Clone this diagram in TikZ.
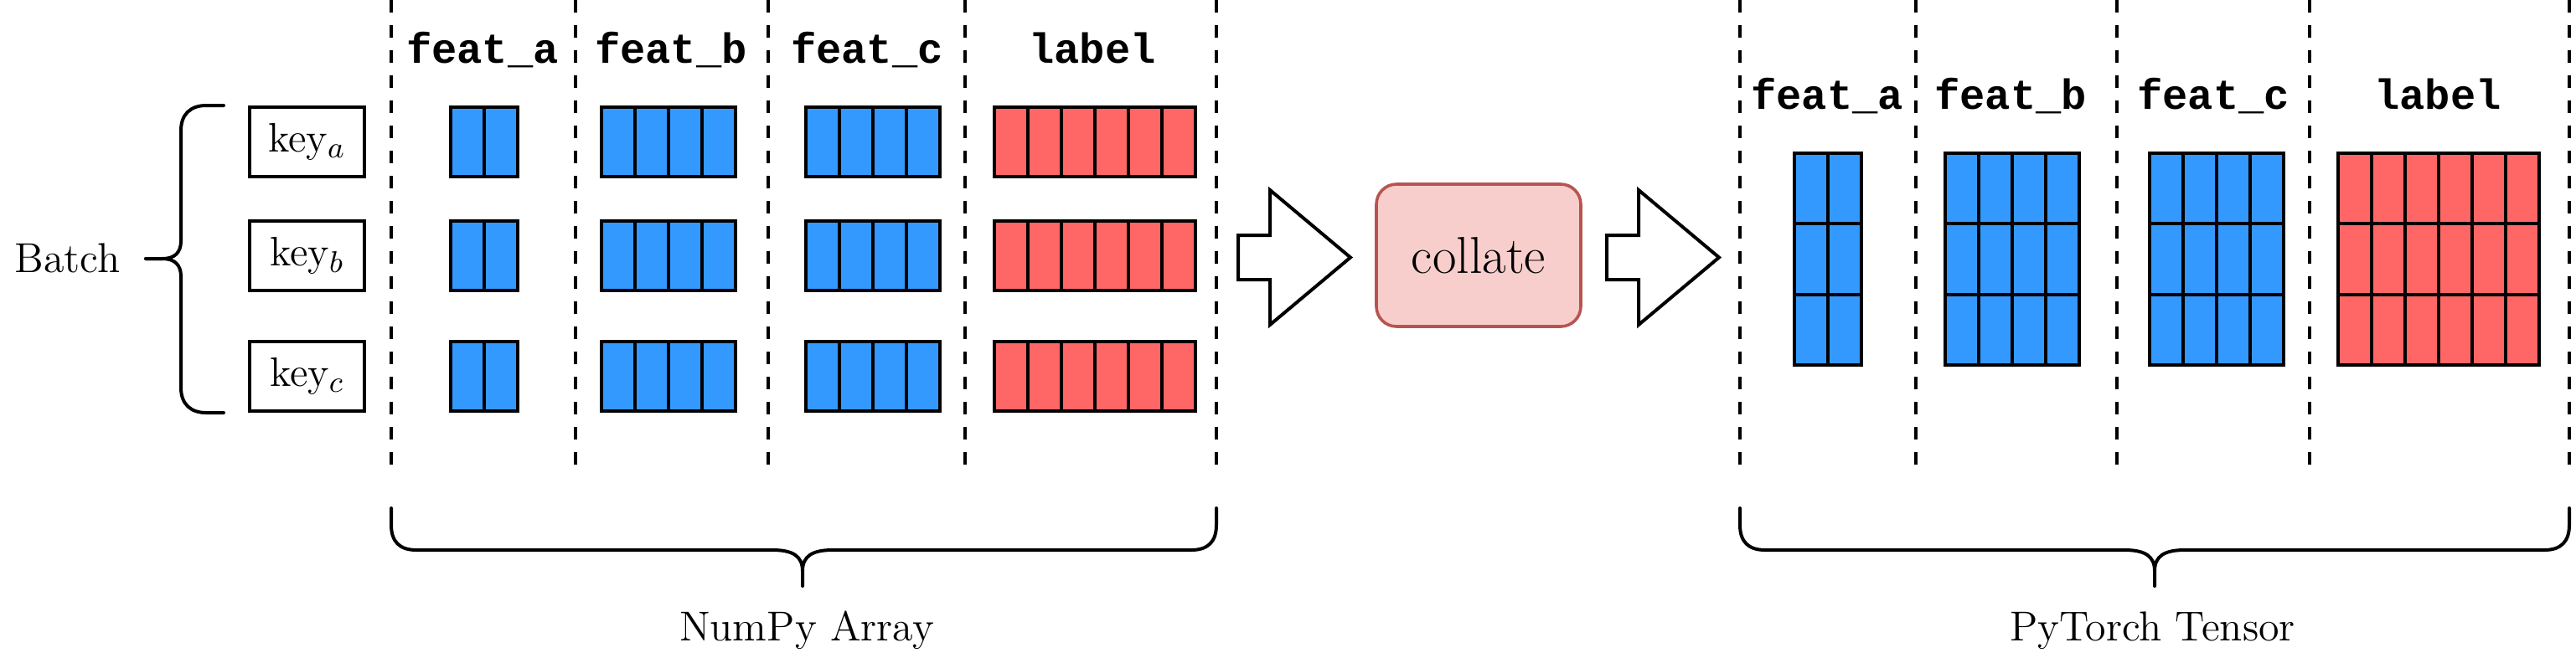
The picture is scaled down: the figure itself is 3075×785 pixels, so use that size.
\documentclass[tikz,border=0pt]{standalone}
\usepackage{fontspec}
\setmonofont{Liberation Mono}
\definecolor{cblue}{HTML}{3399FF}
\definecolor{cred}{HTML}{FF6666}
\definecolor{pfill}{HTML}{F8CECC}
\definecolor{pdraw}{HTML}{B85450}
\newcommand\cellgrid[7]{%
  \node[cellbox, fill=#6, minimum width={#4*10pt}, minimum height={#5*#7*0.25pt}] (#1) at (#2,#3) {};
  \ifnum#4>1 \foreach \i in {2,...,#4} { \draw ([xshift={(\i-1)*10pt}]#1.north west) -- ([xshift={(\i-1)*10pt}]#1.south west); }\fi
  \ifnum#5>1 \foreach \j in {2,...,#5} { \draw ([yshift={-(\j-1)*#7*0.25pt}]#1.north west) -- ([yshift={-(\j-1)*#7*0.25pt}]#1.north east); }\fi
}
\begin{document}
\begin{tikzpicture}[x=0.25pt,y=-0.25pt,line width=1pt,
  cellbox/.style={draw=black, rectangle, inner sep=0pt, outer sep=0pt},
  keybox/.style={draw=black, rectangle, inner sep=0pt, outer sep=0pt, minimum width=34.25pt, minimum height=20.75pt, font=\fontsize{12.3pt}{15pt}\selectfont},
  lbl/.style={font=\fontsize{12.5pt}{15pt}\selectfont, inner sep=0pt, anchor=base},
  hdr/.style={font=\fontsize{12.6pt}{15pt}\selectfont\ttfamily\bfseries, inner sep=0pt, anchor=base},
  sep/.style={line width=1pt, dash pattern=on 3.75pt off 3.75pt},
  brace/.style={line width=1pt, line cap=round},
  blockarrow/.style={draw=black, fill=white, line width=1pt, line join=miter},
  collatebox/.style={draw=pdraw, fill=pfill, line width=0.9pt, rounded corners=6pt, minimum width=61pt, minimum height=42.5pt, inner sep=0pt, font=\fontsize{15.5pt}{18pt}\selectfont}]
\useasboundingbox[fill=white] (0,0) rectangle (3075,785);

% dashed separators
\foreach \x in {467,687,917,1152,1452,2077,2287,2527,2757,3067}
  \draw[sep] (\x,0) -- (\x,555);

% headers left
\node[hdr] (ha) at (576,75) {feat\_a};
\node[hdr] (hb) at (801,75) {feat\_b};
\node[hdr] (hc) at (1035,75) {feat\_c};
\node[hdr] (hl) at (1304,75) {label};
% headers right
\node[hdr] (tha) at (2181,130) {feat\_a};
\node[hdr] (thb) at (2400,130) {feat\_b};
\node[hdr] (thc) at (2642,130) {feat\_c};
\node[hdr] (thl) at (2910,130) {label};

% keys
\node[keybox] (ka) at (366.5,169.5) {key$_a$};
\node[keybox] (kb) at (366.5,305) {key$_b$};
\node[keybox] (kc) at (366.5,449.5) {key$_c$};

% batch label and brace
\node[lbl] (batch) at (80.5,325) {Batch};
\draw[brace] (267,126) -- (246,126) .. controls (228,126) and (216,136) .. (216,156) -- (216,288) .. controls (216,302) and (208,309) .. (194,309) -- (174,309);
\draw[brace] (267,493) -- (246,493) .. controls (228,493) and (216,483) .. (216,463) -- (216,330) .. controls (216,316) and (208,309) .. (194,309) -- (174,309);

% numpy cells
\foreach \r/\y in {a/169.5,b/305,c/449.5}{
  \cellgrid{na\r}{578}{\y}{2}{1}{cblue}{83}
  \cellgrid{nb\r}{797.5}{\y}{4}{1}{cblue}{83}
  \cellgrid{nc\r}{1041.5}{\y}{4}{1}{cblue}{83}
  \cellgrid{nl\r}{1306.5}{\y}{6}{1}{cred}{83}
}

% torch cells
\cellgrid{ta}{2181.5}{309.5}{2}{3}{cblue}{84.3}
\cellgrid{tb}{2402}{309.5}{4}{3}{cblue}{84.3}
\cellgrid{tc}{2646}{309.5}{4}{3}{cblue}{84.3}
\cellgrid{tl}{2910.5}{309.5}{6}{3}{cred}{84.3}

% collate and block arrows
\node[collatebox] (collate) at (1765,305) {collate};
\draw[blockarrow] (1478,281) -- (1516,281) -- (1516,227) -- (1612,307.5) -- (1516,388) -- (1516,334) -- (1478,334) -- cycle;
\draw[blockarrow] (1918,281) -- (1956,281) -- (1956,227) -- (2052,307.5) -- (1956,388) -- (1956,334) -- (1918,334) -- cycle;

% bottom braces
\draw[brace] (467,607) -- (467,627) .. controls (467,647) and (477,657) .. (497,657) -- (922,657) .. controls (946,657) and (958,664) .. (958,682) -- (958,700);
\draw[brace] (1452,607) -- (1452,627) .. controls (1452,647) and (1442,657) .. (1422,657) -- (994,657) .. controls (970,657) and (958,664) .. (958,682);
\node[lbl] (numpy) at (963,765) {NumPy Array};

\draw[brace] (2077,607) -- (2077,627) .. controls (2077,647) and (2087,657) .. (2107,657) -- (2536,657) .. controls (2560,657) and (2572,664) .. (2572,682) -- (2572,700);
\draw[brace] (3067,607) -- (3067,627) .. controls (3067,647) and (3057,657) .. (3037,657) -- (2608,657) .. controls (2584,657) and (2572,664) .. (2572,682);
\node[lbl] (torch) at (2569.5,765) {PyTorch Tensor};
\end{tikzpicture}
\end{document}
